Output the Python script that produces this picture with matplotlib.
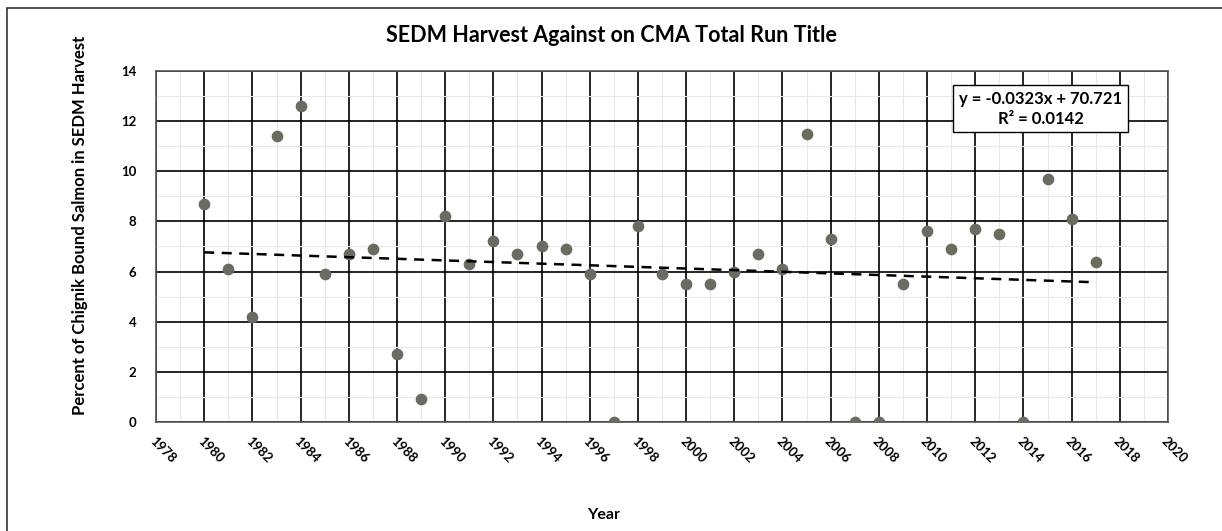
import matplotlib.pyplot as plt
from matplotlib.patches import Rectangle
import numpy as np

plt.rcParams['font.family'] = ['Lato', 'DejaVu Sans']

# Data
years = [1980, 1981, 1982, 1983, 1984, 1985, 1986, 1987, 1988, 1989,
         1990, 1991, 1992, 1993, 1994, 1995, 1996, 1997, 1998, 1999,
         2000, 2001, 2002, 2003, 2004, 2005, 2006, 2007, 2008, 2009,
         2010, 2011, 2012, 2013, 2014, 2015, 2016, 2017]
percent = [8.7, 6.1, 4.2, 11.4, 12.6, 5.9, 6.7, 6.9, 2.7, 0.9,
           8.2, 6.3, 7.2, 6.7, 7.0, 6.9, 5.9, 0.0, 7.8, 5.9,
           5.5, 5.5, 6.0, 6.7, 6.1, 11.5, 7.3, 0.0, 0.0, 5.5,
           7.6, 6.9, 7.7, 7.5, 0.0, 9.7, 8.1, 6.4]
slope = -0.0323
intercept = 70.721
r2 = 0.0142

fig = plt.figure(figsize=(12.22, 5.31), dpi=100)
ax = fig.add_axes([0.1277, 0.2053, 0.8281, 0.661])

ax.set_xlim(1978, 2020)
ax.set_ylim(0, 14)
ax.set_xticks(np.arange(1978, 2021, 2))
ax.set_yticks(np.arange(0, 15, 2))
ax.set_xticks(np.arange(1979, 2020, 2), minor=True)
ax.set_yticks(np.arange(1, 14, 2), minor=True)
ax.grid(which='major', color='black', linewidth=1.2)
ax.grid(which='minor', color='#e8e8e8', linewidth=0.8)
ax.set_axisbelow(True)
ax.tick_params(which='both', length=0)
for s in ax.spines.values():
    s.set_color('#555555')
    s.set_linewidth(1.2)

ax.scatter(years, percent, s=55, color='#6b6b62', zorder=3)

# linear trendline from the equation shown on the chart
xs = np.array([years[0], years[-1]])
ax.plot(xs, slope * xs + intercept, color='black', linestyle=(0, (4, 3)),
        linewidth=1.8, zorder=4)

ax.text(0.874, 0.944, f'y = {slope}x + {intercept}\nR\u00b2 = {r2}',
        transform=ax.transAxes, ha='center', va='top', fontsize=12,
        fontweight='bold', linespacing=1.3,
        bbox=dict(boxstyle='square,pad=0.35', facecolor='white',
                  edgecolor='black', linewidth=1.0), zorder=5)

ax.set_yticklabels([str(v) for v in range(0, 15, 2)], fontsize=9.5, fontweight='bold')
ax.set_xticklabels([str(v) for v in range(1978, 2021, 2)], fontsize=9.5,
                   fontweight='bold', rotation=-45, ha='left', va='top',
                   rotation_mode='anchor')
ax.tick_params(axis='x', pad=9)
ax.tick_params(axis='y', pad=14)

fig.suptitle('SEDM Harvest Against on CMA Total Run Title', fontsize=15.5,
             fontweight='bold', x=0.5, y=1 - 35 / 531, va='center')
ax.set_ylabel('Percent of Chignik Bound Salmon in SEDM Harvest', fontsize=12,
              fontweight='bold')
ax.yaxis.set_label_coords(-0.067, 0.561)
ax.set_xlabel('Year', fontsize=11.5, fontweight='bold')
ax.xaxis.set_label_coords(0.442, -0.245)

fig.patches.append(Rectangle((0.006, -0.05), 1.1, 1.035, transform=fig.transFigure,
                             fill=False, edgecolor='#333333', linewidth=1.2))

fig.savefig('out.png', dpi=100)
